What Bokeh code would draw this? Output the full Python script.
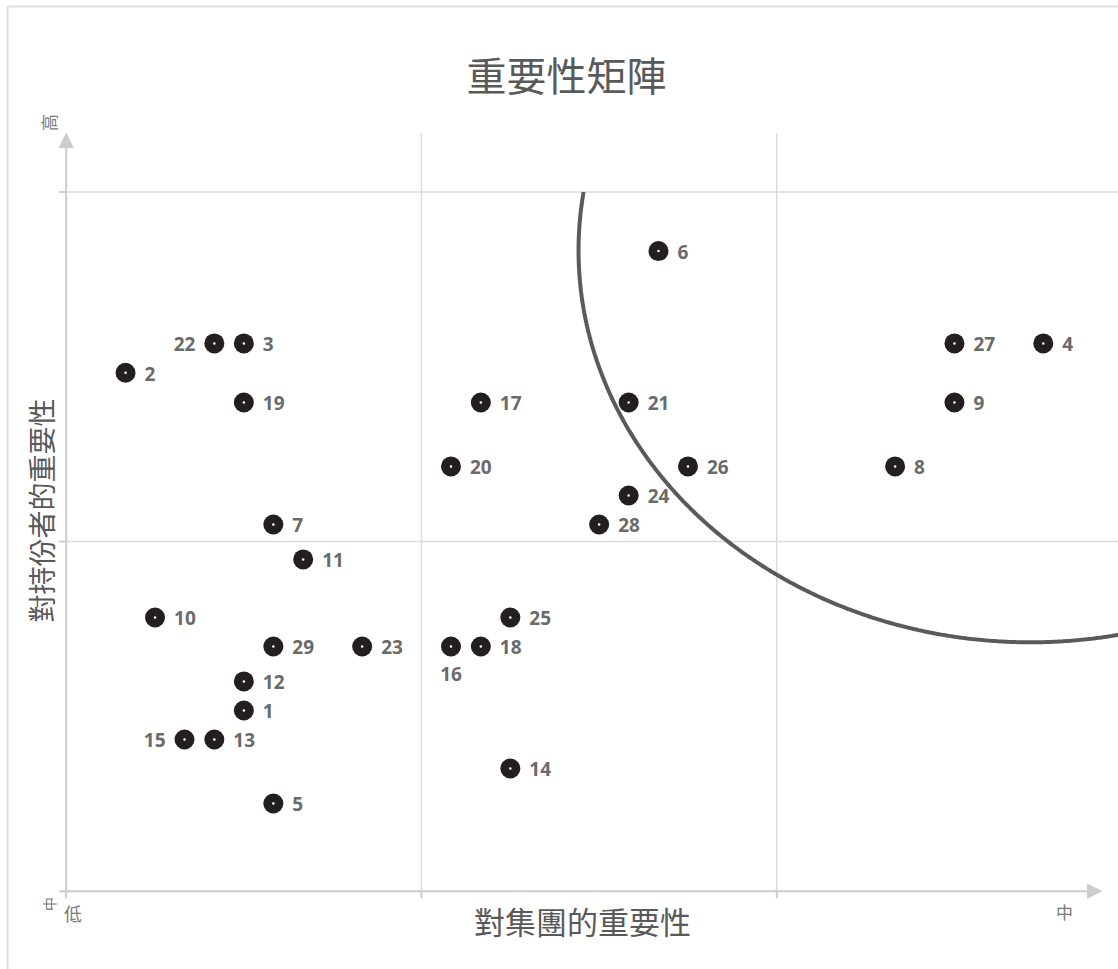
import numpy as np
from bokeh.plotting import figure
from bokeh.models import ColumnDataSource, Range1d, Label, Arrow, NormalHead
from bokeh.core.properties import value
from bokeh.embed import file_html
from bokeh.resources import INLINE

# ---------------- data ----------------
ids = ["1", "2", "3", "4", "5", "6", "7", "8", "9", "10",
       "11", "12", "13", "14", "15", "16", "17", "18", "19", "20",
       "21", "22", "23", "24", "25", "26", "27", "28", "29"]
group_importance = [0.500, 0.167, 0.500, 2.750, 0.583, 1.667, 0.583, 2.333, 2.500, 0.250,
                    0.667, 0.500, 0.417, 1.250, 0.333, 1.083, 1.167, 1.167, 0.500, 1.083,
                    1.583, 0.417, 0.833, 1.583, 1.250, 1.750, 2.500, 1.500, 0.583]
stakeholder_importance = [0.517, 1.483, 1.567, 1.567, 0.251, 1.831, 1.049, 1.215, 1.398, 0.783,
                          0.949, 0.600, 0.434, 0.351, 0.434, 0.700, 1.398, 0.700, 1.398, 1.215,
                          1.398, 1.567, 0.700, 1.132, 0.783, 1.215, 1.567, 1.049, 0.700]
label_left = ["22", "15"]
label_below = ["16"]

x_ticks = [0, 1, 2]
y_ticks = [0, 1, 2]
x_axis_end = 2.914
y_axis_end = 2.167

title_text = "重要性矩陣"
x_title = "對集團的重要性"
y_title = "對持份者的重要性"
x_low, x_high = "低", "中"
y_low, y_high = "中", "高"

# focus ellipse (data units)
ell_cx, ell_cy, ell_a, ell_b = 2.714, 1.833, 1.272, 1.121

CJK = "Noto Sans CJK TC"
W, H = 1118, 969
X0PX, XSCALE = 65.7, 355.3     # pixel of x=0, pixels per unit
Y0PX, YSCALE = 890.7, 349.6    # pixel of y=0 (from top), pixels per unit
px = 1.0 / XSCALE              # one pixel in x units
py = 1.0 / YSCALE              # one pixel in y units

x0 = -X0PX / XSCALE
y0 = (Y0PX - H) / YSCALE
p = figure(width=W, height=H,
           x_range=Range1d(x0, x0 + W / XSCALE), y_range=Range1d(y0, y0 + H / YSCALE),
           x_axis_type=None, y_axis_type=None,
           output_backend="svg", toolbar_location=None,
           min_border=0, min_border_left=0, min_border_right=0,
           min_border_top=0, min_border_bottom=0)
p.outline_line_color = None
p.background_fill_color = "white"
p.border_fill_color = "white"
p.grid.visible = False

# chart border (left and top edges visible)
bx = x0 + 7 * px
by = y0 + (H - 6) * py
p.segment(x0=[bx, bx], y0=[y0, by], x1=[bx, x0 + W / XSCALE], y1=[by, by],
          line_color="#dedede", line_width=2)

# grid lines
gx = [t for t in x_ticks if t > 0]
gy = [t for t in y_ticks if t > 0]
p.segment(x0=gx, y0=[0] * len(gx), x1=gx, y1=[y_axis_end] * len(gx),
          line_color="#dcdcdc", line_width=1.5)
p.segment(x0=[0] * len(gy), y0=gy, x1=[x0 + W / XSCALE] * len(gy), y1=gy,
          line_color="#dcdcdc", line_width=1.5)

# ticks
p.segment(x0=x_ticks, y0=[-7 * py] * len(x_ticks), x1=x_ticks, y1=[0] * len(x_ticks),
          line_color="#cccccc", line_width=2)
p.segment(x0=[-7 * px] * len(y_ticks), y0=y_ticks, x1=[0] * len(y_ticks), y1=y_ticks,
          line_color="#cccccc", line_width=2)

# axis arrows
for xe, ye in ((0, y_axis_end), (x_axis_end, 0)):
    p.add_layout(Arrow(end=NormalHead(size=14, fill_color="#cccccc", line_color="#cccccc"),
                       x_start=0, y_start=0, x_end=xe, y_end=ye,
                       line_color="#cccccc", line_width=2))

# ellipse arc clipped at y = 2
t0 = np.arcsin((2 - ell_cy) / ell_b)
t = np.linspace(np.pi - t0, 2 * np.pi + t0, 600)
p.line(ell_cx + ell_a * np.cos(t), ell_cy + ell_b * np.sin(t), line_color="#5a5a5a", line_width=4)

src = ColumnDataSource(dict(x=group_importance, y=stakeholder_importance, id=ids))
p.scatter("x", "y", source=src, size=20, fill_color="#231f20", line_color=None)
p.scatter("x", "y", source=src, size=2.5, fill_color="white", line_color=None)

def sub(cond):
    idx = [i for i, k in enumerate(ids) if cond(k)]
    return ColumnDataSource(dict(x=[group_importance[i] for i in idx],
                                 y=[stakeholder_importance[i] for i in idx],
                                 id=[ids[i] for i in idx]))

txt = dict(text="id", text_font=value("Open Sans"), text_font_style="bold",
           text_font_size="19px", text_color="#6a6a6a")
p.text("x", "y", source=sub(lambda k: k not in label_left and k not in label_below),
       text_align="left", text_baseline="middle", x_offset=19, y_offset=1, **txt)
p.text("x", "y", source=sub(lambda k: k in label_left),
       text_align="right", text_baseline="middle", x_offset=-19, y_offset=1, **txt)
p.text("x", "y", source=sub(lambda k: k in label_below),
       text_align="center", text_baseline="middle", x_offset=0, y_offset=28, **txt)

def lab(xp, yp, text, size, angle=0.0, color="#7a7a7a"):
    # xp, yp: pixel position of the text centre
    p.add_layout(Label(x=(xp - X0PX) / XSCALE, y=(Y0PX - yp) / YSCALE, text=text,
                       text_font=CJK, text_font_size=size,
                       text_color=color, text_align="center", text_baseline="middle",
                       angle=angle))

lab(566, 73, title_text, "40px", color="#595959")
lab(582, 920, x_title, "31px", color="#595959")
lab(40, 510, y_title, "28px", angle=np.pi / 2, color="#595959")
lab(48, 122, y_high, "17px", angle=np.pi / 2)
lab(48.5, 903.5, y_low, "14px", angle=np.pi / 2)
lab(72.5, 912.5, x_low, "18px")
lab(1064, 911, x_high, "17px")

open("out.html", "w").write(file_html(p, INLINE))
